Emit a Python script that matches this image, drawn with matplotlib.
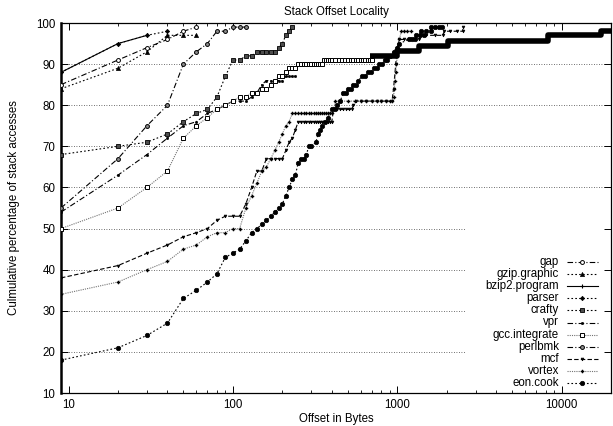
import matplotlib
matplotlib.use('Agg')
import matplotlib.pyplot as plt
from matplotlib.patches import Rectangle

plt.rcParams['font.family'] = ['Liberation Sans', 'DejaVu Sans']
plt.rcParams['font.size'] = 8.3

title = "Stack Offset Locality"
xlabel = "Offset in Bytes"
ylabel = "Culmulative percentage of stack accesses"
yticks = [10, 20, 30, 40, 50, 60, 70, 80, 90, 100]
xticks = [10, 100, 1000, 10000]

gap_x = [9, 20, 30, 40, 50, 60]
gap_y = [85, 91, 94, 96, 98, 99]
gzip_x = [9, 20, 30, 40, 50, 60]
gzip_y = [84, 89, 93, 97, 97, 97]
bzip2_x = [9, 20, 30]
bzip2_y = [88, 95, 97]
parser_x = [9, 20, 30, 40]
parser_y = [88, 95, 97, 98]
crafty_x = [9, 20, 30, 40, 50, 60, 70, 80, 90, 100, 110, 120, 130, 140, 150, 160, 170, 180, 190, 200, 210, 220, 230]
crafty_y = [68, 70, 71, 73, 76, 78, 79, 82, 87, 91, 91, 92, 92, 93, 93, 93, 93, 93, 94, 95, 97, 98, 99]
vpr_x = [9, 20, 30, 40, 50, 60, 70, 80, 90, 100, 110, 120, 130, 140, 150, 160, 170, 180, 190, 200, 210, 220, 230, 240]
vpr_y = [54, 63, 68, 72, 75, 76, 78, 79, 80, 81, 81, 81, 82, 83, 85, 86, 86, 86, 86, 86, 87, 87, 87, 87]
gcc_x = [9, 20, 30, 40, 50, 60, 70, 80, 90, 100, 110, 120, 130, 140, 150, 160, 170, 180, 190, 200, 210, 220, 230, 240, 250,
         260, 270, 280, 290, 300, 310, 320, 330, 340, 350, 360, 370, 380, 390, 400, 420, 440, 460, 480, 500, 520, 540,
         560, 580, 600, 620, 640, 660, 680, 700]
gcc_y = [50, 55, 60, 64, 72, 75, 77, 79, 80, 81, 82, 82, 83, 83, 84, 84, 85, 86, 87, 87, 88, 89, 89, 89, 90,
         90, 90, 90, 90, 90, 90, 90, 90, 90, 90, 91, 91, 91, 91, 91, 91, 91, 91, 91, 91, 91, 91,
         91, 91, 91, 91, 91, 91, 91, 91]
gcc_tail_x = [680, 1000, 1000, 1360, 1360, 2050, 2050, 8300, 8300, 17500, 17500, 20000]
gcc_tail_y = [92, 92, 93.3, 93.3, 94.3, 94.3, 95.5, 95.5, 97, 97, 98, 98]
perl_x = [9, 20, 30, 40, 50, 60, 70, 80, 90, 100, 110, 120]
perl_y = [55, 67, 75, 80, 90, 93, 95, 98, 98, 99, 99, 99]
mcf_x = [9, 20, 30, 40, 50, 60, 70, 80, 90, 100, 110, 120, 130, 140, 150, 160, 170, 180, 190, 200, 210, 220, 230, 240,
         250, 260, 270, 280, 290, 300, 310, 320, 330, 340, 350, 360, 370, 380, 390, 400,
         410, 430, 450, 470, 490, 510, 530, 540, 560, 600, 650, 700, 750, 800, 860, 930,
         950, 980, 1000, 1030, 1100, 1200, 1360, 1390, 1500, 1700, 1900, 1930, 2100, 2300, 2500, 2520]
mcf_y = [38, 41, 44, 46, 48, 49, 50, 52, 53, 53, 53, 56, 60, 64, 64, 67, 67, 67, 67, 67, 69, 71, 72, 74,
         76, 76, 76, 76, 76, 76, 76, 76, 76, 76, 76, 76, 76, 76, 76, 76,
         79, 79, 79, 79, 79, 79, 79, 80, 81, 81, 81, 81, 81, 81, 81, 81,
         84, 90, 94, 96, 96, 96, 96, 97, 97, 97, 97, 98, 98, 98, 98, 99]
vortex_x = [9, 20, 30, 40, 50, 60, 70, 80, 90, 100, 110, 120, 130, 140, 150, 160, 170, 180, 190, 200, 210, 220, 230,
            240, 250, 260, 270, 280, 290, 300, 310, 320, 330, 340, 350, 360, 370, 380, 390, 400,
            410, 420, 450, 500, 550, 600, 650, 700, 750, 800, 850, 900, 935,
            950, 960, 970, 980, 990, 1000, 1010, 1030, 1060, 1100, 1150, 1220]
vortex_y = [34, 37, 40, 42, 45, 46, 48, 49, 49, 50, 50, 55, 58, 61, 64, 65, 67, 69, 71, 73, 75, 76, 78,
            78, 78, 78, 78, 78, 78, 78, 78, 78, 78, 78, 78, 78, 78, 78, 78, 78,
            79, 81, 81, 81, 81, 81, 81, 81, 81, 81, 81, 81, 81,
            82, 84, 86, 88, 90, 92, 94, 96, 98, 98, 98, 98]
eon_x = [9, 20, 30, 40, 50, 60, 70, 80, 90, 100, 110, 120, 130, 140, 150, 160, 170, 180, 190, 200, 210, 220, 230, 240,
         250, 260, 270, 280, 290, 300, 320, 330, 340, 350, 365, 380, 400, 420, 430, 450, 470, 490, 500, 520, 540,
         560, 580, 610, 640, 660, 690, 720, 750, 780, 810, 840, 870, 900, 950, 1000, 1030,
         1180, 1230, 1280, 1300, 1380, 1450, 1400, 1500, 1600, 1600, 1700, 1800, 1880]
eon_y = [18, 21, 24, 27, 33, 35, 37, 39, 43, 44, 45, 47, 49, 50, 51, 52, 53, 54, 55, 56, 58, 60, 62, 63,
         66, 67, 67, 68, 70, 70, 71, 73, 74, 75, 76, 77, 79, 79, 80, 81, 83, 83, 84, 84, 85,
         85, 86, 87, 87, 88, 88, 89, 89, 90, 90, 91, 91, 92, 93, 94, 95,
         96, 96, 96, 97, 97, 97, 98, 98, 98, 99, 99, 99, 99]

DD = (0, (5, 2, 1, 2))
DOT = (0, (1.5, 2))
FDOT = (0, (1, 1))
DASH = (0, (4, 2))

series = [
    ("gap", gap_x, gap_y, dict(color='k', ls=DD, marker='o', ms=2.8, mfc='white', mec='k', mew=0.7)),
    ("gzip.graphic", gzip_x, gzip_y, dict(color='k', ls=DOT, marker='^', ms=3, mfc='k', mec='k', mew=0.5)),
    ("bzip2.program", bzip2_x, bzip2_y, dict(color='k', ls='-', marker='+', ms=3.5, mec='k', mew=0.8)),
    ("parser", parser_x, parser_y, dict(color='k', ls=DOT, marker='D', ms=2.2, mfc='k', mec='k', mew=0.5)),
    ("crafty", crafty_x, crafty_y, dict(color='k', ls=DOT, marker='s', ms=2.6, mfc='0.3', mec='k', mew=0.6)),
    ("vpr", vpr_x, vpr_y, dict(color='k', ls=DD, marker='o', ms=1.6, mfc='k', mec='k', mew=0.5)),
    ("gcc.integrate", gcc_x, gcc_y, dict(color='0.45', ls=FDOT, marker='s', ms=2.8, mfc='white', mec='k', mew=0.7)),
    ("perlbmk", perl_x, perl_y, dict(color='k', ls=DD, marker='o', ms=2.8, mfc='0.55', mec='k', mew=0.7)),
    ("mcf", mcf_x, mcf_y, dict(color='k', ls=DASH, marker='v', ms=2.0, mfc='k', mec='k', mew=0.5)),
    ("vortex", vortex_x, vortex_y, dict(color='0.45', ls=FDOT, marker='P', ms=2.2, mfc='k', mec='k', mew=0.3)),
    ("eon.cook", eon_x, eon_y, dict(color='k', ls=DOT, marker='o', ms=3.2, mfc='k', mec='k', mew=0.5)),
]

W, H = 613, 426
L, R, T, B = 61, 611, 23, 393
fig = plt.figure(figsize=(W / 100, H / 100), dpi=100)
ax = fig.add_axes([L / W, 1 - B / H, (R - L) / W, (B - T) / H])
ax.set_xscale('log')
ax.set_xlim(9, 20000)
ax.set_ylim(10, 100)

for v in yticks[1:-1]:
    ax.axhline(v, color='0.25', lw=0.6, ls=(0, (1, 2)), zorder=1)

# opaque key area
ax.add_patch(Rectangle(((466 - L) / (R - L), 0), (R - 466) / (R - L), (B - 212) / (B - T),
                       transform=ax.transAxes, facecolor='white', edgecolor='none', zorder=1.5))

for name, xs, ys, st in series:
    ax.plot(xs, ys, lw=0.8, zorder=3, **st)

ax.plot(gcc_tail_x, gcc_tail_y, color='k', lw=4, solid_capstyle='butt', zorder=3)

# key
for i, (name, xs, ys, st) in enumerate(series):
    py = 262 + 12.1 * i
    fy = (B - py) / (B - T)
    ax.text((559 - L) / (R - L), fy, name, transform=ax.transAxes, ha='right', va='center', zorder=5)
    ax.plot([(567 - L) / (R - L), (598 - L) / (R - L)], [fy, fy], transform=ax.transAxes, lw=0.8,
            zorder=5, clip_on=False, **{k: v for k, v in st.items() if k not in ('marker', 'ms', 'mfc', 'mec', 'mew')})
    ax.plot([(582 - L) / (R - L)], [fy], transform=ax.transAxes, zorder=5, clip_on=False, ls='none',
            **{k: v for k, v in st.items() if k not in ('ls', 'color')})

ax.set_yticks(yticks)
ax.set_xticks(xticks)
ax.set_xticklabels([str(t) for t in xticks])
ax.tick_params(which='major', direction='in', length=5, width=0.7, top=True, right=True, pad=4)
ax.tick_params(which='minor', direction='in', length=2.5, width=0.6, top=True, right=True)
ax.tick_params(axis='y', which='minor', left=False, right=False)
for s in ax.spines.values():
    s.set_linewidth(0.9)
ax.spines['left'].set_linewidth(1.8)

ax.set_title(title, fontsize=8.3, pad=6)
ax.set_xlabel(xlabel, labelpad=2)
ax.set_ylabel(ylabel)
ax.yaxis.set_label_coords((20 - L) / (R - L), 0.5)

fig.savefig('out.png', dpi=100)
